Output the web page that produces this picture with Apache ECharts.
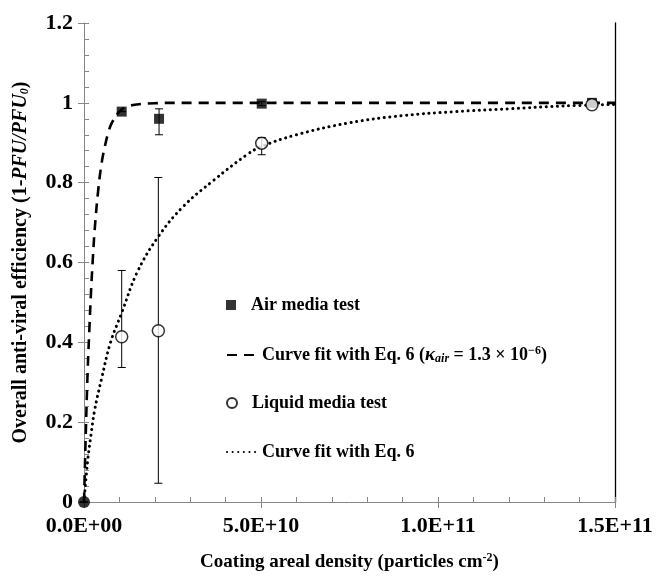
<!DOCTYPE html>
<html>
<head>
<meta charset="utf-8">
<script src="https://cdn.jsdelivr.net/npm/echarts@6/dist/echarts.min.js"></script>
<style>
  html, body { margin: 0; padding: 0; background: #fff; }
  #chart { width: 656px; height: 579px; }
</style>
</head>
<body>
<div id="chart"></div>
<script>
var airX = [0, 1.065e10, 2.12e10, 5.02e10, 1.435e11];
var airY = [0, 0.978, 0.96, 0.998, 1.0];
var airErrLow = [0, 0.978, 0.92, 0.993, 0.996];
var airErrHigh = [0, 0.978, 0.985, 1.003, 1.004];

var liqX = [1.065e10, 2.1e10, 5.02e10, 1.435e11];
var liqY = [0.414, 0.429, 0.899, 0.995];
var liqErrLow = [0.337, 0.047, 0.87, 0.99];
var liqErrHigh = [0.58, 0.813, 0.913, 1.0];

// fitted curves
var airFitX = [0, 5e8, 1e9, 1.5e9, 2e9, 2.5e9, 3e9, 4e9, 5e9, 6e9, 7e9, 8e9, 1e10, 1.2e10, 1.5e10, 2e10, 2.5e10, 1.5e11];
var airFitY = [0, 0.17, 0.32, 0.43, 0.53, 0.61, 0.68, 0.78, 0.85, 0.895, 0.93, 0.952, 0.978, 0.99, 0.996, 0.999, 1.0, 1.0];

var liqFitX = [0, 1e9, 2e9, 3e9, 5e9, 7.5e9, 1.07e10, 1.5e10, 2.1e10, 2.8e10, 3.65e10, 4.6e10, 5e10, 6e10, 7.5e10, 9e10, 1.05e11, 1.2e11, 1.35e11, 1.5e11];
var liqFitY = [0, 0.1, 0.17, 0.23, 0.31, 0.4, 0.475, 0.575, 0.665, 0.74, 0.805, 0.87, 0.89, 0.92, 0.95, 0.968, 0.978, 0.985, 0.992, 0.996];

var xTickLabels = ['0.0E+00', '5.0E+10', '1.0E+11', '1.5E+11'];
var yTickLabels = ['0', '0.2', '0.4', '0.6', '0.8', '1', '1.2'];

var seriesNames = ['Air media test', 'Curve fit air', 'Liquid media test', 'Curve fit liquid'];
var legendRows = [306, 355, 404, 453];

function zip(xs, ys) {
    var out = [];
    for (var i = 0; i < xs.length; i++) out.push([xs[i], ys[i]]);
    return out;
}
function zip3(xs, lo, hi) {
    var out = [];
    for (var i = 0; i < xs.length; i++) out.push([xs[i], lo[i], hi[i]]);
    return out;
}

var font = '"Liberation Serif", "Times New Roman", serif';
var axisGray = '#868686';

function errorBar(params, api) {
    var x = api.value(0);
    var lo = api.coord([x, api.value(1)]);
    var hi = api.coord([x, api.value(2)]);
    var cap = 4;
    var style = { stroke: '#000', lineWidth: 1 };
    return {
        type: 'group',
        children: [
            { type: 'line', shape: { x1: lo[0], y1: lo[1], x2: hi[0], y2: hi[1] }, style: style },
            { type: 'line', shape: { x1: lo[0] - cap, y1: lo[1], x2: lo[0] + cap, y2: lo[1] }, style: style },
            { type: 'line', shape: { x1: hi[0] - cap, y1: hi[1], x2: hi[0] + cap, y2: hi[1] }, style: style }
        ]
    };
}

var airPoints = zip(airX, airY).map(function (p) {
    // the origin point is drawn as a filled dot
    if (p[0] === 0) return { value: p, symbol: 'circle', symbolSize: 12 };
    return p;
});

var rich = {
    b: { fontFamily: font, fontWeight: 'bold', fontSize: 18, color: '#000', lineHeight: 20 },
    i: { fontFamily: font, fontWeight: 'bold', fontStyle: 'italic', fontSize: 19, color: '#000', lineHeight: 20 },
    sub: { fontFamily: font, fontWeight: 'bold', fontStyle: 'italic', fontSize: 12, color: '#000', lineHeight: 20, verticalAlign: 'bottom', padding: [6, 0, 0, 0] },
    sup: { fontFamily: font, fontWeight: 'bold', fontSize: 12, color: '#000', lineHeight: 20, verticalAlign: 'top', padding: [0, 0, 6, 0] }
};

function legendFor(i) {
    var name = seriesNames[i];
    var item = { name: name };
    var text = '{b|' + name + '}';
    if (name === 'Air media test') item.icon = 'path://M0,0h10v10h-10z';
    if (name === 'Curve fit air' || name === 'Curve fit liquid') item.itemStyle = { opacity: 0 };
    if (name === 'Curve fit air') text = '{b|Curve fit with Eq. 6 (}{i|κ}{sub|air}{b| = 1.3 × 10}{sup|−6}{b|)}';
    if (name === 'Curve fit liquid') text = '{b|Curve fit with Eq. 6}';
    return {
        left: 226,
        top: legendRows[i] - 10,
        itemWidth: 30,
        itemHeight: 10,
        itemGap: 0,
        padding: 0,
        symbolKeepAspect: true,
        data: [item],
        formatter: function () { return text; },
        textStyle: { padding: [0, 0, 0, 0], rich: rich }
    };
}

var myChart = echarts.init(document.getElementById('chart'));
var option = {
    animation: false,
    backgroundColor: '#fff',
    grid: { left: 84, right: 41, top: 23, bottom: 77, containLabel: false, outerBoundsMode: 'none' },
    legend: [legendFor(0), legendFor(1), legendFor(2), legendFor(3)],
    xAxis: [{
        type: 'value',
        min: 0,
        max: 1.5e11,
        interval: 5e10,
        name: 'Coating areal density (particles cm{sup|-2})',
        nameLocation: 'middle',
        nameGap: 50,
        nameTextStyle: {
            fontFamily: font, fontWeight: 'bold', fontSize: 19, color: '#000',
            rich: {
                sup: { fontFamily: font, fontWeight: 'bold', fontSize: 12, color: '#000', verticalAlign: 'top', padding: [0, 0, 8, 0] }
            }
        },
        axisLine: { show: true, onZero: false, lineStyle: { color: axisGray, width: 1 } },
        axisTick: { show: true, length: 6, lineStyle: { color: axisGray } },
        splitLine: { show: false },
        axisLabel: {
            fontFamily: font, fontWeight: 'bold', fontSize: 22, color: '#000', margin: 13,
            formatter: function (v) { return xTickLabels[Math.round(v / 5e10)]; }
        }
    }, {
        // inner ticks overlay
        type: 'value',
        position: 'bottom',
        min: 0,
        max: 1.5e11,
        interval: 5e10,
        axisLine: { show: false, onZero: false },
        axisTick: { show: true, inside: true, length: 5, lineStyle: { color: axisGray } },
        minorTick: { show: true, splitNumber: 5, length: 5, lineStyle: { color: axisGray } },
        axisLabel: { show: false },
        splitLine: { show: false }
    }],
    yAxis: [{
        type: 'value',
        min: 0,
        max: 1.2,
        interval: 0.2,
        name: 'Overall anti-viral efficiency (1-{i|PFU/PFU}{isub|0}{b|)}',
        nameLocation: 'middle',
        nameGap: 53,
        nameTextStyle: {
            fontFamily: font, fontWeight: 'bold', fontSize: 20, color: '#000',
            rich: {
                b: { fontFamily: font, fontWeight: 'bold', fontSize: 20, color: '#000' },
                i: { fontFamily: font, fontWeight: 'bold', fontStyle: 'italic', fontSize: 20, color: '#000' },
                isub: { fontFamily: font, fontWeight: 'bold', fontStyle: 'italic', fontSize: 12, color: '#000', verticalAlign: 'bottom', padding: [8, 0, 0, 0] }
            }
        },
        axisLine: { show: true, lineStyle: { color: axisGray, width: 1 } },
        axisTick: { show: true, length: 6, lineStyle: { color: axisGray } },
        splitLine: { show: false },
        axisLabel: {
            fontFamily: font, fontWeight: 'bold', fontSize: 22, color: '#000', margin: 11,
            formatter: function (v) { return yTickLabels[Math.round(v / 0.2)]; }
        }
    }, {
        // inner ticks overlay
        type: 'value',
        position: 'left',
        offset: 0,
        min: 0,
        max: 1.2,
        interval: 0.2,
        axisLine: { show: false },
        axisTick: { show: true, inside: true, length: 5, lineStyle: { color: axisGray } },
        minorTick: { show: true, splitNumber: 5, length: 5, lineStyle: { color: axisGray } },
        axisLabel: { show: false },
        splitLine: { show: false }
    }, {
        type: 'value',
        position: 'right',
        min: 0,
        max: 1.2,
        interval: 0.2,
        axisLine: { show: true, lineStyle: { color: '#000', width: 1.3 } },
        axisTick: { show: false },
        axisLabel: { show: false },
        splitLine: { show: false }
    }],
    series: [
        {
            name: 'Curve fit air',
            type: 'line',
            data: zip(airFitX, airFitY),
            smooth: 0.4,
            symbol: 'none',
            lineStyle: { color: '#000', width: 2.6, type: [10, 7] },
            itemStyle: { color: '#000' },
            z: 2
        },
        {
            name: 'Curve fit liquid',
            type: 'line',
            data: zip(liqFitX, liqFitY),
            smooth: 0.4,
            symbol: 'none',
            lineStyle: { color: '#000', width: 3, type: [0.1, 5.5], cap: 'round' },
            itemStyle: { color: '#000' },
            z: 2
        },
        {
            name: 'air error',
            type: 'custom',
            renderItem: errorBar,
            data: zip3(airX, airErrLow, airErrHigh),
            z: 3
        },
        {
            name: 'liquid error',
            type: 'custom',
            renderItem: errorBar,
            data: zip3(liqX, liqErrLow, liqErrHigh),
            z: 3
        },
        {
            name: 'Air media test',
            type: 'scatter',
            data: airPoints,
            symbol: 'rect',
            symbolSize: 10,
            itemStyle: { color: '#000' },
            z: 5
        },
        {
            name: 'Liquid media test',
            type: 'scatter',
            data: zip(liqX, liqY),
            symbol: 'circle',
            symbolSize: 12,
            itemStyle: { color: '#fff', borderColor: '#000', borderWidth: 1.5 },
            z: 5
        }
    ]
};
myChart.setOption(option);
</script>
</body>
</html>
